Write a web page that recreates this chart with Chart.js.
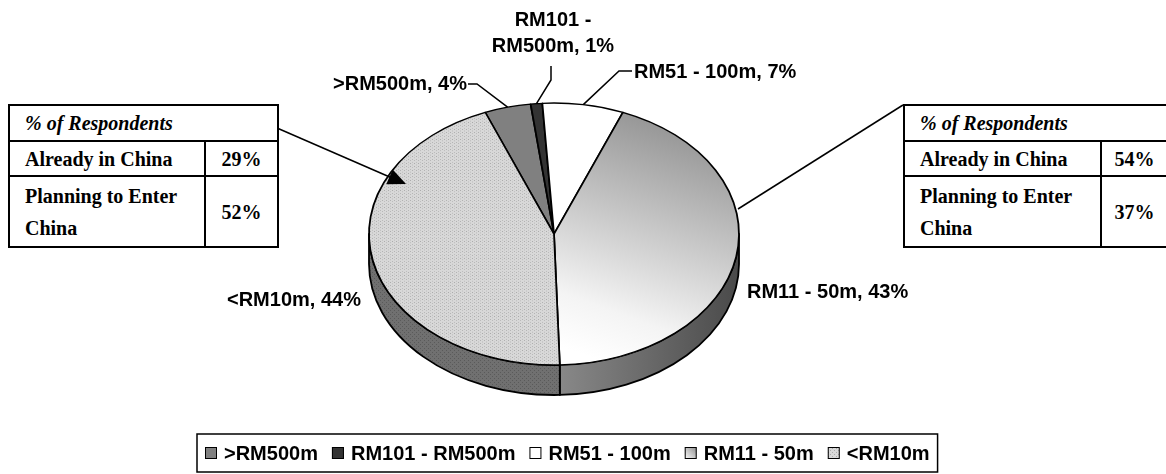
<!DOCTYPE html>
<html>
<head>
<meta charset="utf-8">
<script src="https://cdn.jsdelivr.net/npm/chart.js@4.4.1/dist/chart.umd.min.js"></script>
<style>
html, body { margin: 0; padding: 0; background: #fff; }
#wrap { position: relative; width: 1166px; height: 474px; }
#pieChart { position: absolute; left: 0; top: 0; }
table.resp {
    position: absolute; border-collapse: collapse; table-layout: fixed; background: #fff;
    font-family: "Liberation Serif", "Times New Roman", serif; font-weight: bold; font-size: 20px; color: #000;
}
table.resp td { border: 2px solid #000; padding: 0 0 0 15px; line-height: 32px; vertical-align: middle; white-space: nowrap; }
table.resp td.val { padding: 0; text-align: center; }
table.resp td.head { font-style: italic; }
</style>
</head>
<body>
<div id="wrap">
    <canvas id="pieChart" width="1166" height="474"></canvas>
</div>
<script>
// chart data
const categories = ['>RM500m', 'RM101 - RM500m', 'RM51 - 100m', 'RM11 - 50m', '<RM10m'];
const shares = [4, 1, 7, 43, 44];

// side tables
const tableTitle = '% of Respondents';
const tableRowLabels = ['Already in China', 'Planning to Enter China'];
const leftTableValues = ['29%', '52%'];
const rightTableValues = ['54%', '37%'];

const TILT = 131 / 185;   // vertical squash of the pie
const DEPTH = 30;         // thickness of the pie edge
const FONT = "'Liberation Sans', Arial, sans-serif";

// tables
function buildTable(left, width, valueWidth, values) {
    const t = document.createElement('table');
    t.className = 'resp';
    t.style.left = left + 'px';
    t.style.top = '104px';
    t.style.width = width + 'px';
    let html = `<colgroup><col style="width:${width - valueWidth}px"><col style="width:${valueWidth}px"></colgroup>`;
    html += `<tr style="height:36px"><td class="head" colspan="2">${tableTitle}</td></tr>`;
    html += `<tr style="height:35px"><td>${tableRowLabels[0]}</td><td class="val">${values[0]}</td></tr>`;
    html += `<tr style="height:71px"><td>Planning to Enter<br>China</td><td class="val">${values[1]}</td></tr>`;
    t.innerHTML = html;
    document.getElementById('wrap').appendChild(t);
}
buildTable(8, 269, 73, leftTableValues);
buildTable(903, 264, 67, rightTableValues);

// fills
function makeDots(base, dot) {
    const c = document.createElement('canvas');
    c.width = 4; c.height = 4;
    const x = c.getContext('2d');
    x.fillStyle = base; x.fillRect(0, 0, 4, 4);
    x.fillStyle = dot; x.fillRect(0, 0, 1, 1); x.fillRect(2, 2, 1, 1);
    return x.createPattern(c, 'repeat');
}
const ctx = document.getElementById('pieChart').getContext('2d');
const dotsTop = makeDots('#d8d8d8', '#aaaaaa');
const dotsSide = makeDots('#707070', '#5a5a5a');

function topColor(c) {
    const i = c.dataIndex;
    if (i === 3) {
        const g = c.chart.ctx.createLinearGradient(585, 405, 740, 105);
        g.addColorStop(0, '#ffffff');
        g.addColorStop(0.2, '#f4f4f4');
        g.addColorStop(1, '#929292');
        return g;
    }
    if (i === 4) return dotsTop;
    return ['#808080', '#333333', '#ffffff'][i];
}
function sideColor(i, cx, r) {
    if (i === 3) {
        const g = ctx.createLinearGradient(cx, 0, cx + r, 0);
        g.addColorStop(0, '#8a8a8a');
        g.addColorStop(1, '#4a4a4a');
        return g;
    }
    if (i === 4) return dotsSide;
    return ['#555555', '#222222', '#aaaaaa'][i];
}

// label placement: text anchor and leader line bends
const labelLayout = [
    { x: 467, y: 84, align: 'right', line: [[468, 84], [477, 84]] },
    { x: 553, y: 20, align: 'center', wrap: true, line: [[551, 66], [551, 80]] },
    { x: 634, y: 72, align: 'left', line: [[632, 71], [619, 71]] },
    { x: 747, y: 292, align: 'left' },
    { x: 227, y: 300, align: 'left' }
];

function pieGeom(chart) {
    const arc = chart.getDatasetMeta(0).data[0];
    return { cx: arc.x, cy: arc.y, r: arc.outerRadius };
}

const tiltPlugin = {
    id: 'tilt',
    beforeDatasetsDraw(chart) {
        const c = chart.ctx;
        const { cx, cy, r } = pieGeom(chart);
        const ry = r * TILT;
        // pie edge: only the front half (canvas angles 0..PI) shows
        chart.getDatasetMeta(0).data.forEach((arc, i) => {
            for (let k = -1; k <= 1; k++) {
                const lo = Math.max(arc.startAngle, 2 * Math.PI * k);
                const hi = Math.min(arc.endAngle, 2 * Math.PI * k + Math.PI);
                if (hi <= lo) continue;
                c.save();
                c.beginPath();
                c.ellipse(cx, cy, r, ry, 0, lo, hi);
                c.lineTo(cx + r * Math.cos(hi), cy + DEPTH + ry * Math.sin(hi));
                c.ellipse(cx, cy + DEPTH, r, ry, 0, hi, lo, true);
                c.closePath();
                c.fillStyle = sideColor(i, cx, r);
                c.fill();
                c.lineWidth = 1.8;
                c.strokeStyle = '#000';
                c.lineJoin = 'round';
                c.stroke();
                c.restore();
            }
        });
        c.save();
        c.translate(cx, cy);
        c.scale(1, TILT);
        c.translate(-cx, -cy);
    },
    afterDatasetsDraw(chart) {
        chart.ctx.restore();
    },
    afterDraw(chart) {
        const c = chart.ctx;
        const { cx, cy, r } = pieGeom(chart);
        const meta = chart.getDatasetMeta(0);
        c.save();
        c.fillStyle = '#000';
        c.strokeStyle = '#000';
        c.lineWidth = 1.5;
        c.font = 'bold 20px ' + FONT;
        c.textBaseline = 'middle';

        // slice labels with leader lines
        labelLayout.forEach((lay, i) => {
            const arc = meta.data[i];
            const mid = (arc.startAngle + arc.endAngle) / 2;
            if (lay.line) {
                const ax = cx + r * Math.cos(mid);
                const ay = cy + r * TILT * Math.sin(mid);
                c.beginPath();
                c.moveTo(ax, ay);
                for (let j = lay.line.length - 1; j >= 0; j--) c.lineTo(lay.line[j][0], lay.line[j][1]);
                c.stroke();
            }
            c.textAlign = lay.align;
            if (lay.wrap) {
                const parts = categories[i].split(' - ');
                c.fillText(parts[0] + ' -', lay.x, lay.y);
                c.fillText(parts[1] + ', ' + shares[i] + '%', lay.x, lay.y + 26);
            } else {
                c.fillText(categories[i] + ', ' + shares[i] + '%', lay.x, lay.y);
            }
        });

        // connectors from the side tables
        c.beginPath();
        c.moveTo(277, 128);
        c.lineTo(392, 178);
        c.stroke();
        const ang = Math.atan2(184 - 128, 406 - 277);
        c.save();
        c.translate(406, 184);
        c.rotate(ang);
        c.beginPath();
        c.moveTo(0, 0);
        c.lineTo(-18, -8);
        c.lineTo(-18, 8);
        c.closePath();
        c.fill();
        c.restore();
        c.beginPath();
        c.moveTo(903, 105);
        c.lineTo(738, 209);
        c.stroke();

        // legend
        c.font = 'bold 20px ' + FONT;
        c.textAlign = 'left';
        const swatch = 12, gapIn = 7, gapOut = 14;
        let x = 205;
        const ly = 453;
        const start = x;
        categories.forEach((name, i) => {
            let fill;
            if (i === 3) {
                fill = c.createLinearGradient(x, ly + 6, x + swatch, ly - 6);
                fill.addColorStop(0, '#ffffff');
                fill.addColorStop(1, '#8a8a8a');
            } else if (i === 4) {
                fill = dotsTop;
            } else {
                fill = ['#808080', '#333333', '#ffffff'][i];
            }
            c.fillStyle = fill;
            c.fillRect(x, ly - swatch / 2, swatch, swatch);
            c.lineWidth = 1;
            c.strokeRect(x + 0.5, ly - swatch / 2 + 0.5, swatch - 1, swatch - 1);
            x += swatch + gapIn;
            c.fillStyle = '#000';
            c.fillText(name, x, ly + 1);
            x += c.measureText(name).width + gapOut;
        });
        c.lineWidth = 1.5;
        c.strokeRect(start - 8, 434, x - gapOut + 16 - start, 38);
        c.restore();
    }
};

const pieChart = new Chart(ctx, {
    type: 'pie',
    data: {
        labels: categories,
        datasets: [{
            data: shares,
            backgroundColor: topColor,
            borderColor: '#000',
            borderWidth: 1.8,
            borderJoinStyle: 'round'
        }]
    },
    options: {
        responsive: false,
        animation: false,
        events: [],
        rotation: -21.8,
        radius: 185,
        layout: { padding: { left: 250, right: 308, top: 40, bottom: 46 } },
        plugins: {
            legend: { display: false },
            tooltip: { enabled: false }
        }
    },
    plugins: [tiltPlugin]
});
</script>
</body>
</html>
